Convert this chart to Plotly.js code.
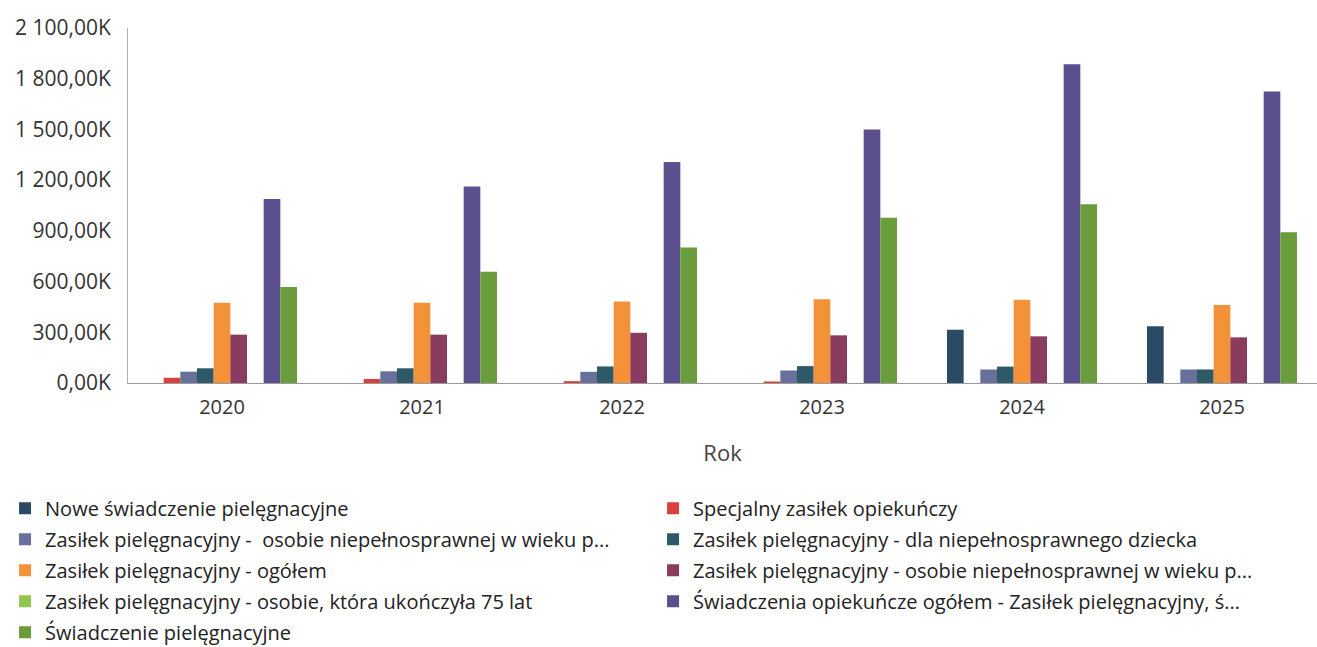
<!DOCTYPE html>
<html>
<head>
<meta charset="utf-8">
<script src="https://cdn.plot.ly/plotly-3.0.1.min.js"></script>
<style>
html,body{margin:0;padding:0;background:#fff;}
#chart{width:1317px;height:647px;}
</style>
</head>
<body>
<div id="chart"></div>
<script>
// Years (categories)
const years = ["2020", "2021", "2022", "2023", "2024", "2025"];

// Series names (as shown in the legend)
const seriesNames = [
  "Nowe świadczenie pielęgnacyjne",
  "Specjalny zasiłek opiekuńczy",
  "Zasiłek pielęgnacyjny -  osobie niepełnosprawnej w wieku p...",
  "Zasiłek pielęgnacyjny - dla niepełnosprawnego dziecka",
  "Zasiłek pielęgnacyjny - ogółem",
  "Zasiłek pielęgnacyjny - osobie niepełnosprawnej w wieku p...",
  "Zasiłek pielęgnacyjny - osobie, która ukończyła 75 lat",
  "Świadczenia opiekuńcze ogółem - Zasiłek pielęgnacyjny, ś...",
  "Świadczenie pielęgnacyjne"
];

// Values in thousands (K)
const nowe          = [0, 0, 0, 0, 315, 335];
const specjalny     = [31, 24, 11, 9, 0, 0];
const zpWiekP1      = [67, 69, 66, 74, 80, 80];
const zpDziecko     = [87, 87, 98, 100, 97, 80];
const zpOgolem      = [475, 475, 482, 495, 492, 462];
const zpWiekP2      = [286, 286, 297, 282, 276, 270];
const zp75          = [0, 0, 0, 0, 0, 0];
const swOpiekOgolem = [1088, 1163, 1308, 1500, 1885, 1725];
const swPiel        = [568, 658, 801, 978, 1058, 892];

// Y axis ticks
const yTickVals = [0, 300, 600, 900, 1200, 1500, 1800, 2100];
const yTickText = ["0,00K", "300,00K", "600,00K", "900,00K", "1 200,00K", "1 500,00K", "1 800,00K", "2 100,00K"];

const seriesValues = [nowe, specjalny, zpWiekP1, zpDziecko, zpOgolem, zpWiekP2, zp75, swOpiekOgolem, swPiel];
const colors = ["#2b4a66", "#d9423c", "#66709a", "#2d5a66", "#f4923a", "#8a3c5e", "#92c64e", "#5b4f8e", "#6a9c3c"];

const traces = seriesValues.map((vals, i) => ({
  type: "bar",
  name: seriesNames[i],
  x: years,
  y: vals,
  marker: {color: colors[i], line: {width: 0}},
  legend: (i % 2 === 0) ? "legend" : "legend2",
  legendgroup: "g" + i,
  hoverinfo: "skip"
}));

const font = {family: "Open Sans, Noto Sans, sans-serif", color: "#333"};

const layout = {
  width: 1317,
  height: 647,
  margin: {l: 128, r: 0, t: 28, b: 264, autoexpand: false},
  paper_bgcolor: "#fff",
  plot_bgcolor: "#fff",
  font: font,
  barmode: "group",
  bargap: 0.25,
  bargroupgap: 0,
  showlegend: true,
  xaxis: {
    type: "category",
    range: [-0.47, 5.475],
    showline: true,
    linecolor: "#9a9a9a",
    linewidth: 1,
    ticks: "",
    showgrid: false,
    zeroline: false,
    automargin: false,
    ticklabelstandoff: 6,
    tickfont: {family: font.family, size: 20, color: "#333"},
    title: {text: "Rok", font: {family: font.family, size: 22, color: "#444"}, standoff: 26}
  },
  yaxis: {
    range: [0, 2100],
    tickvals: yTickVals,
    ticktext: yTickText,
    showline: true,
    linecolor: "#b0b0b0",
    linewidth: 1,
    showgrid: false,
    zeroline: false,
    automargin: false,
    ticks: "",
    ticklen: 0,
    ticklabelstandoff: 12,
    tickfont: {family: font.family, size: 21, color: "#333"}
  },
  legend: {
    x: -0.1034, xanchor: "left",
    y: -0.298, yanchor: "top",
    orientation: "v",
    traceorder: "grouped",
    tracegroupgap: 2,
    font: {family: font.family, size: 20, color: "#222"},
    bgcolor: "rgba(0,0,0,0)"
  },
  legend2: {
    x: 0.4416, xanchor: "left",
    y: -0.298, yanchor: "top",
    orientation: "v",
    traceorder: "grouped",
    tracegroupgap: 2,
    font: {family: font.family, size: 20, color: "#222"},
    bgcolor: "rgba(0,0,0,0)"
  }
};

Plotly.newPlot("chart", traces, layout, {displayModeBar: false, staticPlot: true});
</script>
</body>
</html>
